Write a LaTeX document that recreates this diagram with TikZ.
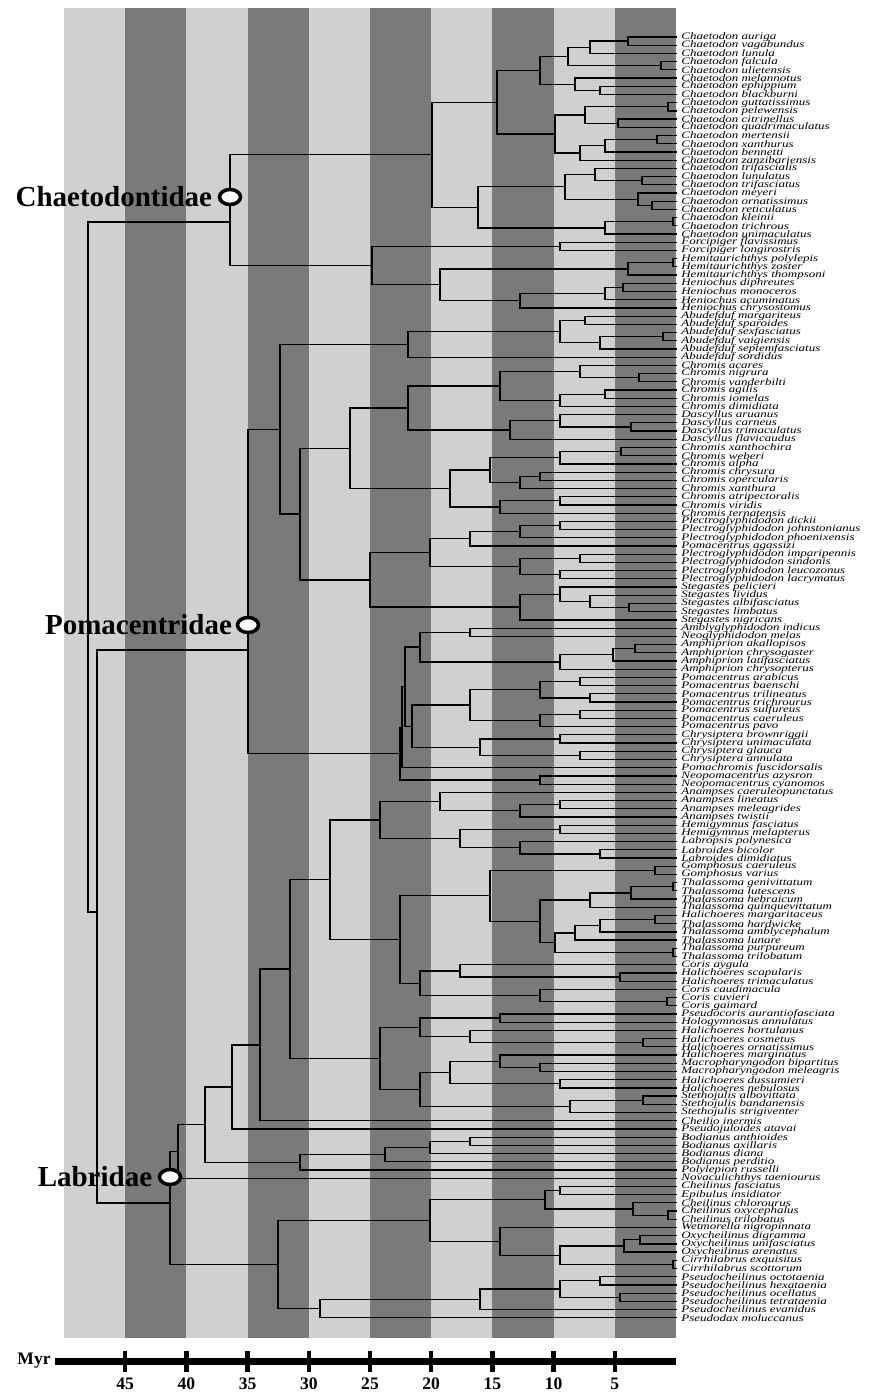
\documentclass[tikz,border=0pt]{standalone}
\usepackage{fontspec}
\setmainfont{Liberation Serif}
\usepackage{graphicx}
\usetikzlibrary{calc,shapes.geometric}
\definecolor{bandlight}{RGB}{208,208,208}
\definecolor{banddark}{RGB}{122,122,122}

% one clade: name, age position (px), two children
\newcommand{\clade}[4]{%
  \coordinate (#1m) at ($(#3)!0.5!(#4)$);
  \coordinate (#1) at (#2,0 |- #1m);
  \draw[branch] (#3) -| (#1) |- (#4);
}
% clade with a fixed height
\newcommand{\cladeat}[5]{%
  \coordinate (#1) at (#2,#3);
  \draw[branch] (#4) -| (#1) |- (#5);
}
\newcommand{\taxname}[1]{\scalebox{1}[0.76]{\fontsize{7.4}{7.4}\selectfont\itshape #1}}

\tikzset{
  branch/.style={line width=0.7pt, line join=miter},
  taxon/.style={anchor=west, inner sep=0pt},
  family/.style={anchor=east, inner sep=1pt, font=\fontsize{16.5}{18}\selectfont\bfseries},
  crown/.style={ellipse, draw, fill=white, line width=2pt, minimum width=0.42cm, minimum height=0.3cm, inner sep=0pt},
  axislab/.style={font=\fontsize{10}{12}\selectfont\bfseries, inner sep=0pt}
}

\begin{document}
\begin{tikzpicture}[x=0.02cm, y=-0.02cm]
\useasboundingbox (0,0) rectangle (871,1396);

% time bands, 5 Myr each
\foreach \k in {0,...,9}{
  \pgfmathsetmacro{\xa}{676-61.2*\k}
  \pgfmathsetmacro{\xb}{676-61.2*(\k+1)}
  \ifodd\k
    \fill[bandlight] (\xb,8) rectangle (\xa,1338);
  \else
    \fill[banddark] (\xb,8) rectangle (\xa,1338);
  \fi
}

% leaves
\foreach \name [count=\i] in {Chaetodon auriga, Chaetodon vagabundus, Chaetodon lunula, Chaetodon falcula, Chaetodon ulietensis, Chaetodon melannotus, Chaetodon ephippium, Chaetodon blackburni, Chaetodon guttatissimus, Chaetodon pelewensis, Chaetodon citrinellus, Chaetodon quadrimaculatus, Chaetodon mertensii, Chaetodon xanthurus, Chaetodon bennetti, Chaetodon zanzibariensis, Chaetodon trifascialis, Chaetodon lunulatus, Chaetodon trifasciatus, Chaetodon meyeri, Chaetodon ornatissimus, Chaetodon reticulatus, Chaetodon kleinii, Chaetodon trichrous, Chaetodon unimaculatus, Forcipiger flavissimus, Forcipiger longirostris, Hemitaurichthys polylepis, Hemitaurichthys zoster, Hemitaurichthys thompsoni, Heniochus diphreutes, Heniochus monoceros, Heniochus acuminatus, Heniochus chrysostomus, Abudefduf margariteus, Abudefduf sparoides, Abudefduf sexfasciatus, Abudefduf vaigiensis, Abudefduf septemfasciatus, Abudefduf sordidus, Chromis acares, Chromis nigrura, Chromis vanderbilti, Chromis agilis, Chromis iomelas, Chromis dimidiata, Dascyllus aruanus, Dascyllus carneus, Dascyllus trimaculatus, Dascyllus flavicaudus, Chromis xanthochira, Chromis weberi, Chromis alpha, Chromis chrysura, Chromis opercularis, Chromis xanthura, Chromis atripectoralis, Chromis viridis, Chromis ternatensis, Plectroglyphidodon dickii, Plectroglyphidodon johnstonianus, Plectroglyphidodon phoenixensis, Pomacentrus agassizi, Plectroglyphidodon imparipennis, Plectroglyphidodon sindonis, Plectroglyphidodon leucozonus, Plectroglyphidodon lacrymatus, Stegastes pelicieri, Stegastes lividus, Stegastes albifasciatus, Stegastes limbatus, Stegastes nigricans, Amblyglyphidodon indicus, Neoglyphidodon melas, Amphiprion akallopisos, Amphiprion chrysogaster, Amphiprion latifasciatus, Amphiprion chrysopterus, Pomacentrus arabicus, Pomacentrus baenschi, Pomacentrus trilineatus, Pomacentrus trichrourus, Pomacentrus sulfureus, Pomacentrus caeruleus, Pomacentrus pavo, Chrysiptera brownriggii, Chrysiptera unimaculata, Chrysiptera glauca, Chrysiptera annulata, Pomachromis fuscidorsalis, Neopomacentrus azysron, Neopomacentrus cyanomos, Anampses caeruleopunctatus, Anampses lineatus, Anampses meleagrides, Anampses twistii, Hemigymnus fasciatus, Hemigymnus melapterus, Labropsis polynesica, Labroides bicolor, Labroides dimidiatus, Gomphosus caeruleus, Gomphosus varius, Thalassoma genivittatum, Thalassoma lutescens, Thalassoma hebraicum, Thalassoma quinquevittatum, Halichoeres margaritaceus, Thalassoma hardwicke, Thalassoma amblycephalum, Thalassoma lunare, Thalassoma purpureum, Thalassoma trilobatum, Coris aygula, Halichoeres scapularis, Halichoeres trimaculatus, Coris caudimacula, Coris cuvieri, Coris gaimard, Pseudocoris aurantiofasciata, Hologymnosus annulatus, Halichoeres hortulanus, Halichoeres cosmetus, Halichoeres ornatissimus, Halichoeres marginatus, Macropharyngodon bipartitus, Macropharyngodon meleagris, Halichoeres dussumieri, Halichoeres nebulosus, Stethojulis albovittata, Stethojulis bandanensis, Stethojulis strigiventer, Cheilio inermis, Pseudojuloides atavai, Bodianus anthioides, Bodianus axillaris, Bodianus diana, Bodianus perditio, Polylepion russelli, Novaculichthys taeniourus, Cheilinus fasciatus, Epibulus insidiator, Cheilinus chlorourus, Cheilinus oxycephalus, Cheilinus trilobatus, Wetmorella nigropinnata, Oxycheilinus digramma, Oxycheilinus unifasciatus, Oxycheilinus arenatus, Cirrhilabrus exquisitus, Cirrhilabrus scottorum, Pseudocheilinus octotaenia, Pseudocheilinus hexataenia, Pseudocheilinus ocellatus, Pseudocheilinus tetrataenia, Pseudocheilinus evanidus, Pseudodax moluccanus}{
  \coordinate (t\i) at (677,{37+(\i-1)*8.21});
  \node[taxon] (l\i) at (681,{37+(\i-1)*8.21}) {\taxname{\name}};
}

% Chaetodontidae
\clade{c12}{628}{t1}{t2}
\clade{c13}{590}{c12}{t3}
\clade{c45}{661}{t4}{t5}
\clade{c15}{568}{c13}{c45}
\clade{c78}{600}{t7}{t8}
\clade{c68}{575}{t6}{c78}
\clade{c18}{540}{c15}{c68}
\clade{c910}{668}{t9}{t10}
\clade{c1112}{618}{t11}{t12}
\clade{c912}{585}{c910}{c1112}
\clade{c1314}{657}{t13}{t14}
\clade{c1315}{605}{c1314}{t15}
\clade{c1316}{580}{c1315}{t16}
\clade{c916}{555}{c912}{c1316}
\clade{c116}{497}{c18}{c916}
\clade{c1819}{642}{t18}{t19}
\clade{c1719}{595}{t17}{c1819}
\clade{c2122}{652}{t21}{t22}
\clade{c2022}{638}{t20}{c2122}
\clade{c1722}{565}{c1719}{c2022}
\clade{c2324}{673}{t23}{t24}
\clade{c2325}{605}{c2324}{t25}
\clade{c1725}{478}{c1722}{c2325}
\clade{chaet}{432}{c116}{c1725}
\clade{forc}{560}{t26}{t27}
\clade{h2829}{673}{t28}{t29}
\clade{hemi}{628}{h2829}{t30}
\clade{h3132}{623}{t31}{t32}
\clade{h3133}{605}{h3132}{t33}
\clade{heni}{520}{h3133}{t34}
\clade{hh}{440}{hemi}{heni}
\clade{fhh}{372}{forc}{hh}
\cladeat{chaecrown}{230}{222}{chaet}{fhh}

% Pomacentridae
\clade{a3536}{585}{t35}{t36}
\clade{a3738}{663}{t37}{t38}
\clade{a3739}{600}{a3738}{t39}
\clade{a3539}{560}{a3536}{a3739}
\clade{abud}{408}{a3539}{t40}
\clade{m4243}{639}{t42}{t43}
\clade{m4143}{580}{t41}{m4243}
\clade{m4445}{605}{t44}{t45}
\clade{m4446}{560}{m4445}{t46}
\clade{m4146}{500}{m4143}{m4446}
\clade{d4849}{631}{t48}{t49}
\clade{d4749}{560}{t47}{d4849}
\clade{dasc}{510}{d4749}{t50}
\clade{m4150}{408}{m4146}{dasc}
\clade{m5152}{621}{t51}{t52}
\clade{m5153}{560}{m5152}{t53}
\clade{m5455}{540}{t54}{t55}
\clade{m5456}{520}{m5455}{t56}
\clade{m5156}{490}{m5153}{m5456}
\clade{m5758}{560}{t57}{t58}
\clade{m5759}{500}{m5758}{t59}
\clade{m5159}{450}{m5156}{m5759}
\clade{chrom}{350}{m4150}{m5159}
\clade{p6061}{560}{t60}{t61}
\clade{p6062}{520}{p6061}{t62}
\clade{p6063}{470}{p6062}{t63}
\clade{p6465}{580}{t64}{t65}
\clade{p6667}{560}{t66}{t67}
\clade{p6467}{520}{p6465}{p6667}
\clade{plec}{430}{p6063}{p6467}
\clade{s7071}{629}{t70}{t71}
\clade{s6971}{590}{t69}{s7071}
\clade{s6871}{560}{t68}{s6971}
\clade{steg}{520}{s6871}{t72}
\clade{plst}{370}{plec}{steg}
\clade{prest}{300}{chrom}{plst}
\clade{pup}{280}{abud}{prest}
\clade{g7374}{470}{t73}{t74}
\clade{a7576}{635}{t75}{t76}
\clade{a7577}{613}{a7576}{t77}
\clade{amph}{560}{a7577}{t78}
\clade{ga}{420}{g7374}{amph}
\clade{o7980}{580}{t79}{t80}
\clade{o8182}{590}{t81}{t82}
\clade{o7982}{540}{o7980}{o8182}
\clade{o8384}{580}{t83}{t84}
\clade{o8385}{540}{o8384}{t85}
\clade{poma}{470}{o7982}{o8385}
\clade{y8687}{560}{t86}{t87}
\clade{y8889}{580}{t88}{t89}
\clade{chry}{480}{y8687}{y8889}
\clade{pc}{412}{poma}{chry}
\clade{gapc}{405}{ga}{pc}
\clade{gapf}{402}{gapc}{t90}
\clade{neop}{540}{t91}{t92}
\clade{plow}{400}{gapf}{neop}
\cladeat{pomcrown}{248}{650}{pup}{plow}

% Labridae
\clade{n9495}{560}{t94}{t95}
\clade{n9496}{520}{n9495}{t96}
\clade{anam}{440}{t93}{n9496}
\clade{hemg}{560}{t97}{t98}
\clade{b100101}{600}{t100}{t101}
\clade{labr}{520}{t99}{b100101}
\clade{hl}{460}{hemg}{labr}
\clade{ahl}{380}{anam}{hl}
\clade{gomp}{655}{t102}{t103}
\clade{th104105}{673}{t104}{t105}
\clade{th104106}{631}{th104105}{t106}
\clade{th104107}{590}{th104106}{t107}
\clade{th108109}{655}{t108}{t109}
\clade{th108110}{600}{th108109}{t110}
\clade{th108111}{575}{th108110}{t111}
\clade{th112113}{673}{t112}{t113}
\clade{th108113}{555}{th108111}{th112113}
\clade{thal}{540}{th104107}{th108113}
\clade{gt}{490}{gomp}{thal}
\clade{q115116}{620}{t115}{t116}
\clade{q114116}{460}{t114}{q115116}
\clade{q118119}{667}{t118}{t119}
\clade{q117119}{540}{t117}{q118119}
\clade{cori}{420}{q114116}{q117119}
\clade{gtc}{400}{gt}{cori}
\clade{ahlg}{330}{ahl}{gtc}
\clade{q120121}{500}{t120}{t121}
\clade{q123124}{643}{t123}{t124}
\clade{q122124}{470}{t122}{q123124}
\clade{q120124}{420}{q120121}{q122124}
\clade{q126127}{540}{t126}{t127}
\clade{q125127}{500}{t125}{q126127}
\clade{q128129}{560}{t128}{t129}
\clade{q125129}{450}{q125127}{q128129}
\clade{s130131}{643}{t130}{t131}
\clade{steth}{570}{s130131}{t132}
\clade{q125132}{420}{q125129}{steth}
\clade{q120132}{380}{q120124}{q125132}
\clade{juli}{290}{ahlg}{q120132}
\clade{juch}{260}{juli}{t133}
\clade{jups}{232}{juch}{t134}
\clade{b135136}{470}{t135}{t136}
\clade{b135137}{430}{b135136}{t137}
\clade{bodi}{385}{b135137}{t138}
\clade{bopo}{300}{bodi}{t139}
\clade{lupp}{205}{jups}{bopo}
\clade{lup}{178}{lupp}{t140}
\clade{e141142}{560}{t141}{t142}
\clade{e144145}{668}{t144}{t145}
\clade{e143145}{633}{t143}{e144145}
\clade{e141145}{545}{e141142}{e143145}
\clade{x147148}{640}{t147}{t148}
\clade{x147149}{624}{x147148}{t149}
\clade{cirr}{673}{t150}{t151}
\clade{x147151}{560}{x147149}{cirr}
\clade{x146151}{500}{t146}{x147151}
\clade{chei}{430}{e141145}{x146151}
\clade{u152153}{600}{t152}{t153}
\clade{u154155}{620}{t154}{t155}
\clade{u152155}{560}{u152153}{u154155}
\clade{u152156}{480}{u152155}{t156}
\clade{psd}{320}{u152156}{t157}
\clade{llow}{278}{chei}{psd}
\cladeat{labcrown}{170}{1203}{lup}{llow}

% root
\cladeat{pl}{97}{912}{pomcrown}{labcrown}
\clade{root}{88}{chaecrown}{pl}

% family crowns
\node[crown] (chaecirc) at (230,197) {};
\node[crown] (pomcirc) at (248,625) {};
\node[crown] (labcirc) at (170,1177) {};
\node[family] (chaelab) at ([xshift=-2pt]chaecirc.west) {Chaetodontidae};
\node[family] (pomlab) at ([xshift=-1pt]pomcirc.west) {Pomacentridae};
\node[family] (lablab) at ([xshift=-2pt]labcirc.west) {Labridae};

% time axis
\coordinate (axl) at (55,1361);
\coordinate (axr) at (676,1361);
\draw[line width=4pt] (axl) -- (axr);
\node[axislab, anchor=east] (myr) at (51,1361) {Myr};
\foreach \m in {5,10,...,45}{
  \fill (676-12.24*\m-2.2,1351) rectangle (676-12.24*\m+2.2,1372);
  \node[axislab] (tick\m) at (676-12.24*\m,1384) {\m};
}
\end{tikzpicture}
\end{document}
